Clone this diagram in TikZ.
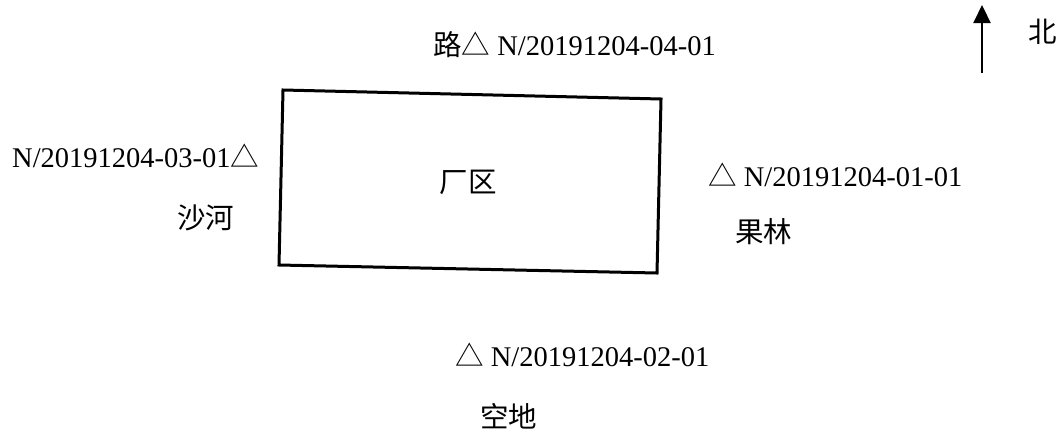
\documentclass[tikz,border=0pt]{standalone}
\usepackage{fontspec}
\setmainfont{Liberation Serif}
\newfontfamily\cjk{Noto Sans CJK SC}
\usetikzlibrary{arrows.meta}
\tikzset{
  lbl/.style={anchor=west,inner sep=0pt,font=\fontsize{28.5}{28.5}\selectfont}
}
\begin{document}
\begin{tikzpicture}[x=1pt,y=-1pt]
  \useasboundingbox (0,0) rectangle (1064,432);
  % factory outline
  \coordinate (nw) at (283,90);
  \coordinate (ne) at (661,99);
  \coordinate (se) at (657,273);
  \coordinate (sw) at (279,265);
  \draw [line width=3pt] (nw) -- (ne) -- (se) -- (sw) -- cycle;
  \node [lbl,anchor=center] (plant) at (468,182) {\cjk 厂区};
  % sampling points
  \node [lbl] (p4) at (433,45) {{\cjk 路△} N/20191204-04-01};
  \node [lbl] (p3) at (12,156) {N/20191204-03-01{\cjk △}};
  \node [lbl] (river) at (177,218) {\cjk 沙河};
  \node [lbl] (p1) at (708,175) {{\cjk △} N/20191204-01-01};
  \node [lbl] (orchard) at (735,232) {\cjk 果林};
  \node [lbl] (p2) at (455,355) {{\cjk △} N/20191204-02-01};
  \node [lbl] (field) at (480,416) {\cjk 空地};
  % north arrow
  \coordinate (tail) at (982,73);
  \coordinate (tip) at (982,5);
  \draw [-{Triangle[length=18pt,width=17pt]},line width=2.2pt] (tail) -- (tip);
  \node [lbl] (north) at (1028,32) {\cjk 北};
\end{tikzpicture}
\end{document}
